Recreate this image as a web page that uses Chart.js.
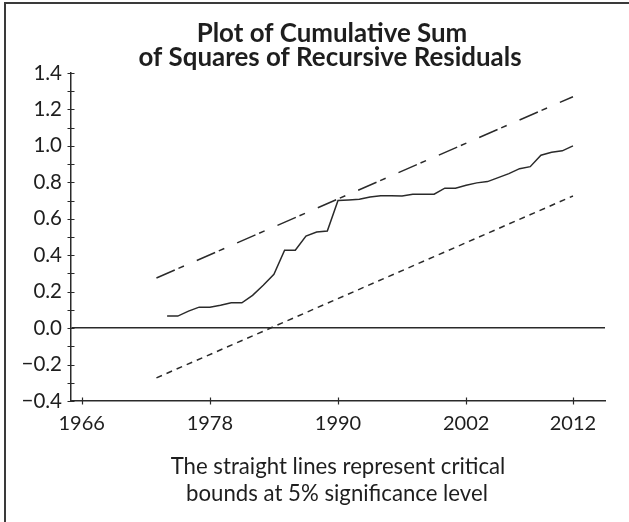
<!DOCTYPE html>
<html><head><meta charset="utf-8">
<script src="https://cdn.jsdelivr.net/npm/chart.js@4.4.1/dist/chart.umd.min.js"></script>
<style>html,body{margin:0;padding:0;background:#fff;}#wrap{width:629px;height:522px;position:relative;}</style>
</head><body><div id="wrap"><canvas id="c" width="629" height="522"></canvas></div>
<script>
const titleLines = ['Plot of Cumulative Sum', 'of Squares of Recursive Residuals'];
const footerLines = ['The straight lines represent critical', 'bounds at 5% significance level'];

const years = [1974,1975,1976,1977,1978,1979,1980,1981,1982,1983,1984,1985,1986,1987,1988,1989,1990,1991,1992,1993,1994,1995,1996,1997,1998,1999,2000,2001,2002,2003,2004,2005,2006,2007,2008,2009,2010,2011,2012];
const cusumsq = [0.066,0.066,0.093,0.115,0.115,0.126,0.139,0.139,0.180,0.235,0.295,0.427,0.427,0.505,0.527,0.533,0.700,0.703,0.707,0.720,0.727,0.727,0.725,0.735,0.735,0.735,0.768,0.768,0.784,0.797,0.804,0.826,0.848,0.875,0.886,0.949,0.965,0.973,1.000];

const boundYears = [1973, 2012];
const upperBound = [0.275, 1.270];
const lowerBound = [-0.273, 0.725];

const xTickValues = [1966, 1978, 1990, 2002, 2012];
const yMin = -0.4, yMax = 1.4, yMinorStep = 0.1;

const INK = '#2a2a2a';
const FONT = 'Lato, "Open Sans", sans-serif';

const pts = (xs, ys) => xs.map((x, i) => ({x: x, y: ys[i]}));

function fitFont(c, text, weight, base, targetW) {
  c.font = weight + ' ' + base + 'px ' + FONT;
  const w = c.measureText(text).width;
  const size = Math.max(12, Math.min(30, base * targetW / w));
  c.font = weight + ' ' + size.toFixed(1) + 'px ' + FONT;
}

const decor = {
  id: 'decor',
  beforeDraw(chart) {
    const c = chart.ctx;
    c.save();
    c.fillStyle = '#fff';
    c.fillRect(0, 0, chart.width, chart.height);
    c.strokeStyle = '#3a3a3a';
    c.lineWidth = 2;
    c.beginPath();
    c.moveTo(5, chart.height);
    c.lineTo(5, 3);
    c.lineTo(chart.width, 3);
    c.stroke();
    c.restore();
  },
  afterDraw(chart) {
    const c = chart.ctx;
    const xs = chart.scales.x, ys = chart.scales.y;
    c.save();
    c.strokeStyle = INK;
    c.lineWidth = 1.2;
    c.beginPath();
    ys.ticks.forEach(t => {
      const y = Math.round(ys.getPixelForValue(t.value)) + 0.5;
      c.moveTo(xs.left - 3.5, y);
      c.lineTo(xs.left + 3.5, y);
    });
    xs.ticks.forEach(t => {
      const x = Math.round(xs.getPixelForValue(t.value)) + 0.5;
      c.moveTo(x, ys.bottom - 3.5);
      c.lineTo(x, ys.bottom + 3.5);
    });
    c.stroke();
    c.fillStyle = '#1e1e1e';
    c.textAlign = 'center';
    c.textBaseline = 'middle';
    fitFont(c, titleLines[0], 'bold', 22, 271);
    c.fillText(titleLines[0], 332, 34);
    c.fillText(titleLines[1], 330, 58);
    fitFont(c, footerLines[0], 'normal', 20, 335);
    c.fillText(footerLines[0], 338, 467);
    c.fillText(footerLines[1], 337, 494);
    c.restore();
  }
};

new Chart(document.getElementById('c'), {
  type: 'line',
  data: {
    datasets: [
      {label: 'CUSUM of squares', data: pts(years, cusumsq), borderColor: INK, borderWidth: 1.5, pointRadius: 0, tension: 0, fill: false},
      {label: 'Upper 5% bound', data: pts(boundYears, upperBound), borderColor: INK, borderWidth: 1.5, borderDash: [20, 4, 6, 14], pointRadius: 0, tension: 0, fill: false},
      {label: 'Lower 5% bound', data: pts(boundYears, lowerBound), borderColor: INK, borderWidth: 1.5, borderDash: [6, 5], pointRadius: 0, tension: 0, fill: false}
    ]
  },
  options: {
    responsive: false,
    animation: false,
    devicePixelRatio: 1,
    layout: {padding: {left: 0, right: 24, top: 73, bottom: 0}},
    plugins: {legend: {display: false}, title: {display: false}, tooltip: {enabled: false}},
    scales: {
      x: {
        type: 'linear', min: 1965, max: 2015,
        afterBuildTicks: s => { s.ticks = xTickValues.map(v => ({value: v})); },
        afterFit: s => { s.height = 121; },
        ticks: {callback: v => String(v), font: {family: FONT, size: 20}, color: '#1e1e1e', padding: 11, autoSkip: false, maxRotation: 0},
        grid: {display: true, drawOnChartArea: false, drawTicks: false},
        border: {display: true, color: INK, width: 1.5}
      },
      y: {
        type: 'linear', min: yMin, max: yMax,
        afterFit: s => { s.width = 71; },
        ticks: {
          stepSize: yMinorStep, autoSkip: false,
          callback: v => { const k = Math.round(v * 10); if (k % 2 !== 0) return ''; return (k < 0 ? '\u2212' : '') + Math.abs(k / 10).toFixed(1); },
          font: {family: FONT, size: 20.5}, color: '#1e1e1e', padding: 9
        },
        grid: {drawTicks: false, lineWidth: 1.4, color: ctx => (ctx.tick && Math.abs(ctx.tick.value) < 1e-9) ? INK : 'rgba(0,0,0,0)'},
        border: {display: true, color: INK, width: 1.5}
      }
    }
  },
  plugins: [decor]
});
</script></body></html>
